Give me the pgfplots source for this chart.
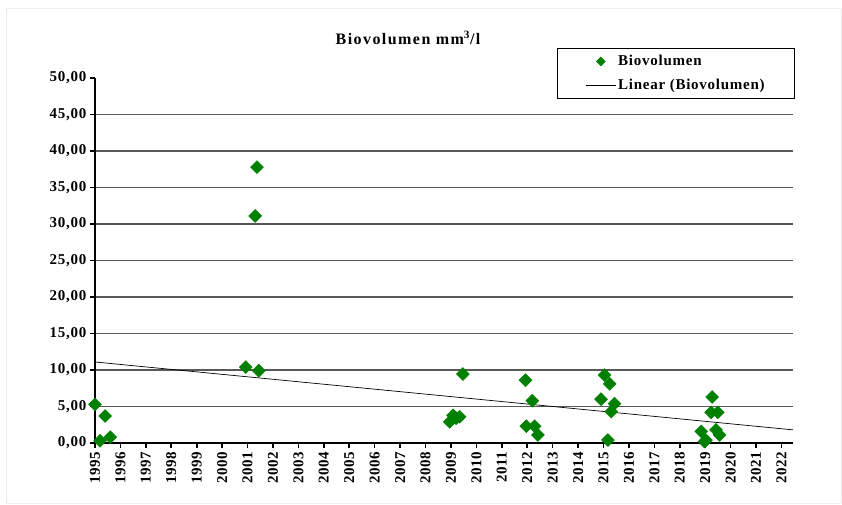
\documentclass[border=0pt]{standalone}
\usepackage{fontspec}
\setmainfont{Liberation Serif}
\newfontfamily\titlefont[LetterSpace=9]{Liberation Serif}
\newfontfamily\tickfont[LetterSpace=5]{Liberation Serif}
\newfontfamily\legfont[LetterSpace=5]{Liberation Serif}
\usepackage{pgfplots}
\pgfplotsset{compat=1.18}
\definecolor{mkgreen}{HTML}{008000}
\begin{document}
\begin{tikzpicture}
\path[use as bounding box] (-95pt,-61pt) rectangle (747pt,443pt);
\draw[gray!15,line width=1pt] (-88pt,-60pt) rectangle (746pt,434pt);
\begin{axis}[
  at={(0pt,0pt)}, anchor=south west,
  scale only axis, width=698pt, height=365pt,
  xmin=1995, xmax=2022.45, ymin=0, ymax=50,
  xtick={1995,...,2022},
  ytick={0,5,...,45},
  extra y ticks={50}, extra y tick style={grid=none},
  axis x line*=bottom, axis y line*=left,
  axis line style={line width=2.6pt, -},
  ymajorgrids, grid style={gray!70!black, line width=1.1pt},
  tick style={black, line width=1.6pt},
  major tick length=5pt,
  xtick pos=bottom, ytick pos=left,
  tick align=outside,
  /pgf/number format/assume math mode=true,
  xticklabel style={rotate=90, anchor=east, font=\tickfont\fontsize{15}{17}\selectfont\bfseries, /pgf/number format/1000 sep={}},
  yticklabel style={font=\tickfont\fontsize{15}{17}\selectfont\bfseries, /pgf/number format/.cd, fixed, fixed zerofill, precision=2, use comma},
  clip=false,
  legend style={at={(axis description cs:1.003,1.082)}, anchor=north east, draw=black, line width=0.8pt,
    font=\legfont\fontsize{15}{17}\selectfont\bfseries, inner xsep=28pt, inner ysep=5pt, row sep=8pt},
  legend cell align=left,
]
\addplot[only marks, mark=square*, mark options={rotate=45}, mark size=4.6pt, color=mkgreen,
  legend image code/.code={\draw[mark repeat=2,mark phase=2,mark size=3pt] plot coordinates {(0pt,0pt)(15pt,0pt)(30pt,0pt)};}]
coordinates {
(1995.00,5.3) (1995.20,0.3) (1995.40,3.7) (1995.60,0.8)
(2000.93,10.4) (2001.44,9.9) (2001.30,31.1) (2001.37,37.8)
(2008.95,2.9) (2009.08,3.8) (2009.34,3.6) (2009.20,3.4) (2009.47,9.45)
(2011.93,8.6) (2012.20,5.8) (2011.96,2.3) (2012.29,2.3) (2012.42,1.1)
(2015.04,9.3) (2015.24,8.1) (2014.90,6.0) (2015.43,5.4) (2015.30,4.3) (2015.17,0.4)
(2019.27,6.3) (2019.23,4.2) (2019.49,4.2) (2018.84,1.6) (2019.03,0.4) (2019.42,1.8) (2019.56,1.1) (2018.97,0.2)
};
\addlegendentry{Biovolumen}
\addplot[black, line width=0.7pt, no marks,
  legend image code/.code={\draw (0pt,0pt) -- (30pt,0pt);}]
coordinates {(1995,11.1) (2022.45,1.8)};
\addlegendentry{Linear (Biovolumen)}
\end{axis}
\node[font=\titlefont\fontsize{16}{18}\selectfont\bfseries] at (313pt,405pt) {Biovolumen mm\textsuperscript{3}/l};
\end{tikzpicture}
\end{document}
